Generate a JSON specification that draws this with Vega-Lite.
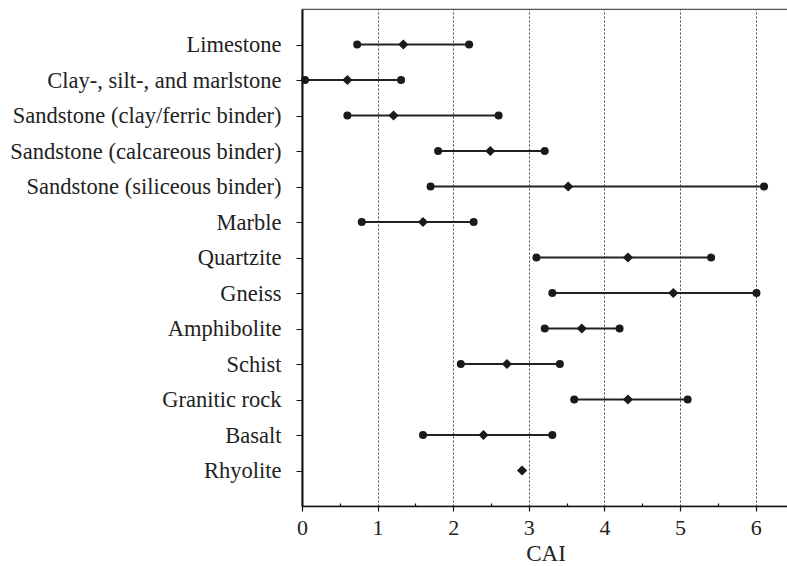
{
  "$schema": "https://vega.github.io/schema/vega-lite/v6.json",
  "autosize": {"type": "none"},
  "padding": {"left": 302, "top": 9, "right": 0, "bottom": 60},
  "width": 487,
  "height": 497,
  "background": "white",
  "config": {
    "view": {"stroke": "#555", "strokeWidth": 1.2},
    "font": "Liberation Serif"
  },
  "data": {
    "values": [
      {"rock": "Limestone", "lo": 0.73, "mean": 1.34, "hi": 2.21},
      {"rock": "Clay-, silt-, and marlstone", "lo": 0.04, "mean": 0.6, "hi": 1.31},
      {"rock": "Sandstone (clay/ferric binder)", "lo": 0.6, "mean": 1.21, "hi": 2.6},
      {"rock": "Sandstone (calcareous binder)", "lo": 1.8, "mean": 2.49, "hi": 3.21},
      {"rock": "Sandstone (siliceous binder)", "lo": 1.7, "mean": 3.52, "hi": 6.11},
      {"rock": "Marble", "lo": 0.79, "mean": 1.6, "hi": 2.27},
      {"rock": "Quartzite", "lo": 3.1, "mean": 4.31, "hi": 5.41},
      {"rock": "Gneiss", "lo": 3.31, "mean": 4.91, "hi": 6.01},
      {"rock": "Amphibolite", "lo": 3.21, "mean": 3.7, "hi": 4.2},
      {"rock": "Schist", "lo": 2.1, "mean": 2.71, "hi": 3.41},
      {"rock": "Granitic rock", "lo": 3.6, "mean": 4.31, "hi": 5.1},
      {"rock": "Basalt", "lo": 1.6, "mean": 2.4, "hi": 3.31},
      {"rock": "Rhyolite", "lo": null, "mean": 2.91, "hi": null}
    ]
  },
  "encoding": {
    "y": {
      "field": "rock",
      "type": "nominal",
      "sort": null,
      "scale": {"type": "point", "padding": 1},
      "axis": {
        "title": null,
        "domainColor": "#111",
        "domainWidth": 2,
        "tickColor": "#111",
        "tickSize": 6,
        "tickWidth": 1,
        "labelFont": "Liberation Serif",
        "labelFontSize": 22.5,
        "labelColor": "#222",
        "labelPadding": 15,
        "labelLimit": 400,
        "grid": false
      }
    }
  },
  "layer": [
    {
      "mark": {"type": "rule", "color": "#222", "strokeWidth": 2.2},
      "encoding": {
        "x": {
          "field": "lo",
          "type": "quantitative",
          "scale": {"domain": [0, 6.44], "nice": false, "zero": false},
          "axis": {
            "title": "CAI",
            "values": [0, 0.5, 1, 1.5, 2, 2.5, 3, 3.5, 4, 4.5, 5, 5.5, 6],
            "labelExpr": "datum.value % 1 === 0 ? format(datum.value, 'd') : ''",
            "domainColor": "#111",
            "domainWidth": 1.5,
            "tickColor": "#111",
            "tickWidth": 1.2,
            "tickSize": {"condition": {"test": "datum.value % 1 !== 0", "value": -3}, "value": 5},
            "grid": true,
            "gridColor": "#444",
            "gridDash": [2, 2],
            "gridWidth": 1,
            "gridOpacity": {"condition": {"test": "datum.value % 1 !== 0 || datum.value === 0", "value": 0}, "value": 1},
            "labelFont": "Liberation Serif",
            "labelFontSize": 22,
            "labelColor": "#222",
            "labelPadding": 6,
            "labelFlush": false,
            "titleFont": "Liberation Serif",
            "titleFontSize": 23,
            "titleFontWeight": "normal",
            "titleColor": "#222",
            "titlePadding": 4
          }
        },
        "x2": {"field": "hi"}
      }
    },
    {
      "mark": {"type": "point", "shape": "circle", "filled": true, "color": "#1a1a1a", "size": 64, "opacity": 1},
      "encoding": {"x": {"field": "lo", "type": "quantitative"}}
    },
    {
      "mark": {"type": "point", "shape": "circle", "filled": true, "color": "#1a1a1a", "size": 64, "opacity": 1},
      "encoding": {"x": {"field": "hi", "type": "quantitative"}}
    },
    {
      "mark": {"type": "point", "shape": "diamond", "filled": true, "color": "#1a1a1a", "size": 105, "opacity": 1},
      "encoding": {"x": {"field": "mean", "type": "quantitative"}}
    }
  ]
}
